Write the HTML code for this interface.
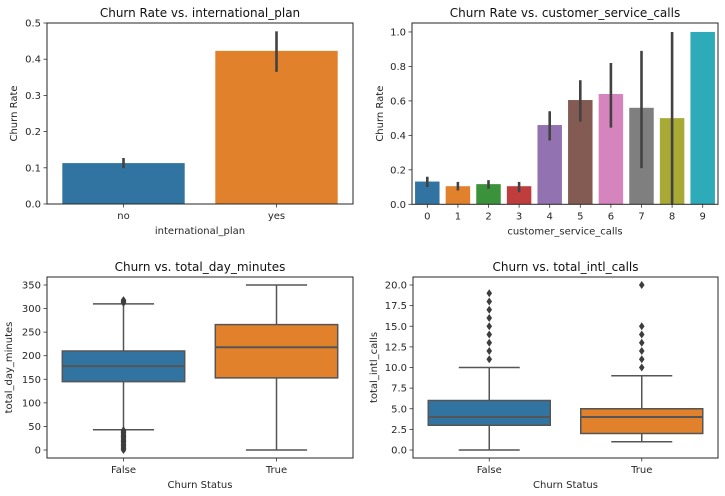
<!DOCTYPE html>
<html><head><meta charset="utf-8">
<style>
body{margin:0;background:#fff;}
svg{display:block;font-family:"DejaVu Sans","Liberation Sans",sans-serif;}
</style></head>
<body>
<svg id="fig" width="725" height="496" viewBox="0 0 725 496" xmlns="http://www.w3.org/2000/svg"></svg>
<script>
// ---- data ----
const planCats = ["no","yes"];
const planRates = [0.113,0.423];
const planErrLo = [0.099,0.365];
const planErrHi = [0.127,0.477];
const planTicks = [0,0.1,0.2,0.3,0.4,0.5];

const cscCats = ["0","1","2","3","4","5","6","7","8","9"];
const cscRates = [0.132,0.105,0.117,0.105,0.46,0.605,0.64,0.56,0.5,1.0];
const cscErrLo = [0.1,0.08,0.09,0.07,0.37,0.48,0.445,0.21,0.0,null];
const cscErrHi = [0.16,0.13,0.14,0.13,0.54,0.72,0.82,0.89,1.0,null];
const cscTicks = [0,0.2,0.4,0.6,0.8,1.0];

const boxCats = ["False","True"];
const dayQ1 = [145,153], dayMed = [178,218], dayQ3 = [210,266];
const dayWLo = [43,0], dayWHi = [310,350];
const dayOutFalse = [0,3,6,9,12,15,18,20,23,26,29,31,34,37,40,42,312,315,318];
const dayOutTrue = [];
const dayTicks = [0,50,100,150,200,250,300,350];

const intlQ1 = [3,2], intlMed = [4,4], intlQ3 = [6,5];
const intlWLo = [0,1], intlWHi = [10,9];
const intlOutFalse = [11,12,13,14,15,16,17,18,19];
const intlOutTrue = [10,11,12,13,14,15,20];
const intlTicks = [0,2.5,5,7.5,10,12.5,15,17.5,20];

const palette = ["#3274a1","#e1812c","#3a923a","#c03d3e","#9372b2","#845b53","#d684bd","#7f7f7f","#a9aa35","#2eabb8"];

const NS="http://www.w3.org/2000/svg";
const fig=document.getElementById('fig');
function el(tag,attrs,parent){const e=document.createElementNS(NS,tag);for(const k in attrs)e.setAttribute(k,attrs[k]);(parent||fig).appendChild(e);return e;}
function txt(s,attrs,parent){const t=el('text',attrs,parent);t.textContent=s;return t;}

function axes(name,L,R,T,B,ymin,ymax,ticks,fmt,title,xlabel,ylabel,cats,ylabX){
  const g=el('g',{});
  
  
  const y=v=>B-(v-ymin)/(ymax-ymin)*(B-T);
  const n=cats.length, step=(R-L)/n;
  const xc=i=>L+step*(i+0.5);
  ticks.forEach(v=>{
    el('line',{x1:L-3.5,x2:L,y1:y(v),y2:y(v),stroke:'#333','stroke-width':0.8},g);
    const t=txt(fmt(v),{x:L-6,y:y(v)+3.5,'text-anchor':'end','font-size':10,fill:'#262626'},g);
    
    
  });
  cats.forEach((c,i)=>{
    el('line',{x1:xc(i),x2:xc(i),y1:B,y2:B+3.5,stroke:'#333','stroke-width':0.8},g);
    const t=txt(c,{x:xc(i),y:B+15,'text-anchor':'middle','font-size':10,fill:'#262626'},g);
    
    
  });
  const tt=txt(title,{x:(L+R)/2,y:T-6,'text-anchor':'middle','font-size':12,fill:'#111'},g);
  
  
  const xl=txt(xlabel,{x:(L+R)/2,y:B+30,'text-anchor':'middle','font-size':10,fill:'#262626'},g);
  
  
  const yl=txt(ylabel,{x:ylabX,y:(T+B)/2,'text-anchor':'middle','font-size':10,fill:'#262626',transform:`rotate(-90 ${ylabX} ${(T+B)/2})`},g);
  
  
  return {g,y,xc,step,frame:()=>el('rect',{x:L,y:T,width:R-L,height:B-T,fill:'none',stroke:'#262626','stroke-width':1},g)};
}

function bars(ax,vals,lo,hi,colors){
  vals.forEach((v,i)=>{
    const w=ax.step*0.8, x=ax.xc(i)-w/2;
    const r=el('rect',{x:x,y:ax.y(v),width:w,height:ax.y(0)-ax.y(v),fill:colors[i]},ax.g);
    
    
    if(lo[i]!==null){
      const e=el('line',{x1:ax.xc(i),x2:ax.xc(i),y1:ax.y(lo[i]),y2:ax.y(hi[i]),stroke:'#424242','stroke-width':2.6},ax.g);
      
      
    }
  });
  ax.frame();
}

function boxes(ax,q1,med,q3,wlo,whi,outs){
  const lc='#555555';
  q1.forEach((_,i)=>{
    const w=ax.step*0.8, x=ax.xc(i)-w/2, cx=ax.xc(i);
    el('line',{x1:cx,x2:cx,y1:ax.y(q3[i]),y2:ax.y(whi[i]),stroke:lc,'stroke-width':1.5},ax.g);
    el('line',{x1:cx,x2:cx,y1:ax.y(q1[i]),y2:ax.y(wlo[i]),stroke:lc,'stroke-width':1.5},ax.g);
    el('line',{x1:cx-w/4,x2:cx+w/4,y1:ax.y(whi[i]),y2:ax.y(whi[i]),stroke:lc,'stroke-width':1.5},ax.g);
    el('line',{x1:cx-w/4,x2:cx+w/4,y1:ax.y(wlo[i]),y2:ax.y(wlo[i]),stroke:lc,'stroke-width':1.5},ax.g);
    const b=el('rect',{x:x,y:ax.y(q3[i]),width:w,height:ax.y(q1[i])-ax.y(q3[i]),fill:palette[i],stroke:lc,'stroke-width':1.5},ax.g);
    
    
    el('line',{x1:x,x2:x+w,y1:ax.y(med[i]),y2:ax.y(med[i]),stroke:lc,'stroke-width':2},ax.g);
    outs[i].forEach(v=>{
      const d=el('path',{d:`M${cx} ${ax.y(v)-4}L${cx+2.8} ${ax.y(v)}L${cx} ${ax.y(v)+4}L${cx-2.8} ${ax.y(v)}Z`,fill:'#3d3d3d'},ax.g);
      
      
    });
  });
  ax.frame();
}

const f1=v=>v.toFixed(1);
const a1=axes('plan-chart',47,353,23,204,0,0.5,planTicks,f1,'Churn Rate vs. international_plan','international_plan','Churn Rate',planCats,17);
bars(a1,planRates,planErrLo,planErrHi,palette);
const a2=axes('service-calls-chart',412,718,23,204.3,0,1.052,cscTicks,f1,'Churn Rate vs. customer_service_calls','customer_service_calls','Churn Rate',cscCats,383);
bars(a2,cscRates,cscErrLo,cscErrHi,palette);
const ymin3=-(458-450)/(165/350);
const a3=axes('day-minutes-chart',47,353,277,458,ymin3,350+(285-277)/(165/350),dayTicks,v=>String(v),'Churn vs. total_day_minutes','Churn Status','total_day_minutes',boxCats,12);
boxes(a3,dayQ1,dayMed,dayQ3,dayWLo,dayWHi,[dayOutFalse,dayOutTrue]);
const a4=axes('intl-calls-chart',413,718,277,458,-(8/(165/20)),20+8/(165/20),intlTicks,f1,'Churn vs. total_intl_calls','Churn Status','total_intl_calls',boxCats,377);
boxes(a4,intlQ1,intlMed,intlQ3,intlWLo,intlWHi,[intlOutFalse,intlOutTrue]);
</script>
</body></html>
